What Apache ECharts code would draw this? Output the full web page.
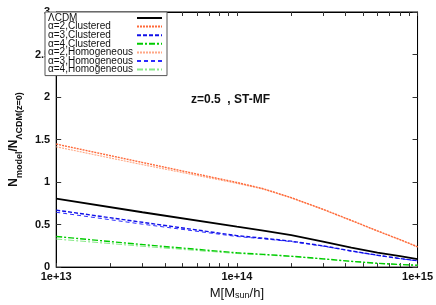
<!DOCTYPE html>
<html><head><meta charset="utf-8">
<script src="https://cdn.jsdelivr.net/npm/echarts@6/dist/echarts.min.js"></script>
<style>html,body{margin:0;padding:0;background:#fff}#c{width:436px;height:305px}</style>
</head><body><div id="c"></div>
<script>
// Halo mass (M_sun/h)
var masses    = [1e13, 3e13, 1e14, 1.4e14, 2e14, 3e14, 4.3e14, 6e14, 8e14, 1e15];
var lcdm      = [0.805, 0.645, 0.475, 0.43, 0.375, 0.30, 0.23, 0.17, 0.13, 0.095];
var a2Clust   = [1.447, 1.23, 0.995, 0.922, 0.817, 0.68, 0.549, 0.426, 0.323, 0.239];
var a3Clust   = [0.67, 0.527, 0.37, 0.34, 0.305, 0.25, 0.19, 0.14, 0.10, 0.075];
var a4Clust   = [0.36, 0.265, 0.168, 0.15, 0.128, 0.097, 0.068, 0.045, 0.03, 0.022];
var a2Homo    = [1.415, 1.205, 0.985, 0.917, 0.813, 0.677, 0.547, 0.424, 0.321, 0.237];
var a3Homo    = [0.645, 0.505, 0.36, 0.333, 0.30, 0.247, 0.188, 0.138, 0.099, 0.073];
var a4Homo    = [0.33, 0.245, 0.16, 0.145, 0.125, 0.095, 0.067, 0.044, 0.029, 0.02];
var seriesNames = ['\u039BCDM','\u03B1=2,Clustered','\u03B1=3,Clustered','\u03B1=4,Clustered',
                   '\u03B1=2,Homogeneous','\u03B1=3,Homogeneous','\u03B1=4,Homogeneous'];
var xTickLabels = ['1e+13','1e+14','1e+15'];
var yTicks = [0, 0.5, 1, 1.5, 2, 2.5, 3];

var seriesData = [lcdm, a2Clust, a3Clust, a4Clust, a2Homo, a3Homo, a4Homo];
var styles = [
  {color:'#000000', width:1.8, type:'solid'},
  {color:'#ff6a3a', width:1.4, type:[2,1]},
  {color:'#1010e8', width:1.4, type:[4,2]},
  {color:'#00cc00', width:1.4, type:[6,2,2,2]},
  {color:'#ffa886', width:1.1, type:[2,1]},
  {color:'#2a2aff', width:1.0, type:[4,3]},
  {color:'#88e888', width:1.1, type:[6,2,2,2]}
];
function lg(v){return Math.log10(v);}
var tickVals = [];
[13,14].forEach(function(d){for(var k=1;k<=9;k++) tickVals.push(d+Math.log10(k));});
tickVals.push(15);
var majorVals = [13,14,15];

var font = 'Liberation Sans, Arial, sans-serif';
var series = seriesData.map(function(arr,i){
  return {
    name: seriesNames[i], type:'line', symbol:'none', smooth:false, silent:true,
    z: 10 - i,
    data: arr.map(function(v,j){return [lg(masses[j]), v];}),
    lineStyle:{color:styles[i].color, width:styles[i].width, type:styles[i].type},
    itemStyle:{color:styles[i].color}
  };
});

function xAxisDef(pos, labels){
  return {
    type:'value', min:13, max:15, position:pos, show:true,
    axisLine:{show:true, onZero:false, lineStyle:{color:'#000', width:1}},
    axisTick:{show:true, inside:true, length:4, customValues: tickVals,
              lineStyle:{color:'#333', width:1}},
    axisLabel:{show:labels, customValues: majorVals, formatter:function(v){return xTickLabels[Math.round(v-13)];},
               fontFamily:font, fontWeight:'bold', fontSize:11, color:'#111', margin:4},
    splitLine:{show:false},
    name: labels ? 'M[M{s|sun}/h]' : '',
    nameLocation:'middle', nameGap:14,
    nameTextStyle:{fontFamily:font, fontSize:13, color:'#111',
      rich:{s:{fontFamily:font, fontSize:9, color:'#111', lineHeight:8, verticalAlign:'bottom'}}}
  };
}
function yAxisDef(pos, labels){
  return {
    type:'value', min:0, max:3, interval:0.5, position:pos, show:true,
    axisLine:{show:true, onZero:false, lineStyle:{color:'#000', width:1}},
    axisTick:{show:true, inside:true, length:5, lineStyle:{color:'#333'}},
    axisLabel:{show:labels, fontFamily:font, fontWeight:'bold', fontSize:11, color:'#111', margin:6,
      formatter:function(v){return String(yTicks[Math.round(v*2)]);}},
    splitLine:{show:false},
    name: labels ? '{a|N}{s|model}{a|/N}{s|\u039BCDM(z=0)}' : '',
    nameLocation:'middle', nameGap:27,
    nameTextStyle:{rich:{
      a:{fontFamily:font, fontWeight:'bold', fontSize:12, color:'#111', lineHeight:16, verticalAlign:'top'},
      s:{fontFamily:font, fontWeight:'bold', fontSize:9, color:'#111', lineHeight:9, verticalAlign:'bottom'}}}
  };
}

var chart = echarts.init(document.getElementById('c'), null, {renderer:'canvas'});
chart.setOption({
  animation:false,
  backgroundColor:'#fff',
  grid:{left:41, right:16, top:12, bottom:36, containLabel:false,
        show:true, borderColor:'#000', borderWidth:1, backgroundColor:'transparent'},
  title:{text:'z=0.5  , ST-MF', left:186, top:89,
    textStyle:{fontFamily:font, fontWeight:'bold', fontSize:12, color:'#111'}},
  legend:{
    orient:'vertical', left:45, top:12, align:'right',
    backgroundColor:'#fff', borderColor:'#555', borderWidth:1,
    padding:[1,4,1,3], itemGap:-1.4, itemWidth:25, itemHeight:6,
    itemStyle:{opacity:0, borderWidth:0},
    data: seriesNames,
    formatter:function(n){return '{t|'+n+'}';},
    textStyle:{fontFamily:font, fontSize:10, color:'#111', padding:0, lineHeight:9,
      rich:{t:{fontFamily:font, fontSize:10, color:'#111', width:84, lineHeight:9, align:'left'}}}
  },
  xAxis:[xAxisDef('bottom',true), xAxisDef('top',false)],
  yAxis:[yAxisDef('left',true), yAxisDef('right',false)],
  series: series
});
</script></body></html>
